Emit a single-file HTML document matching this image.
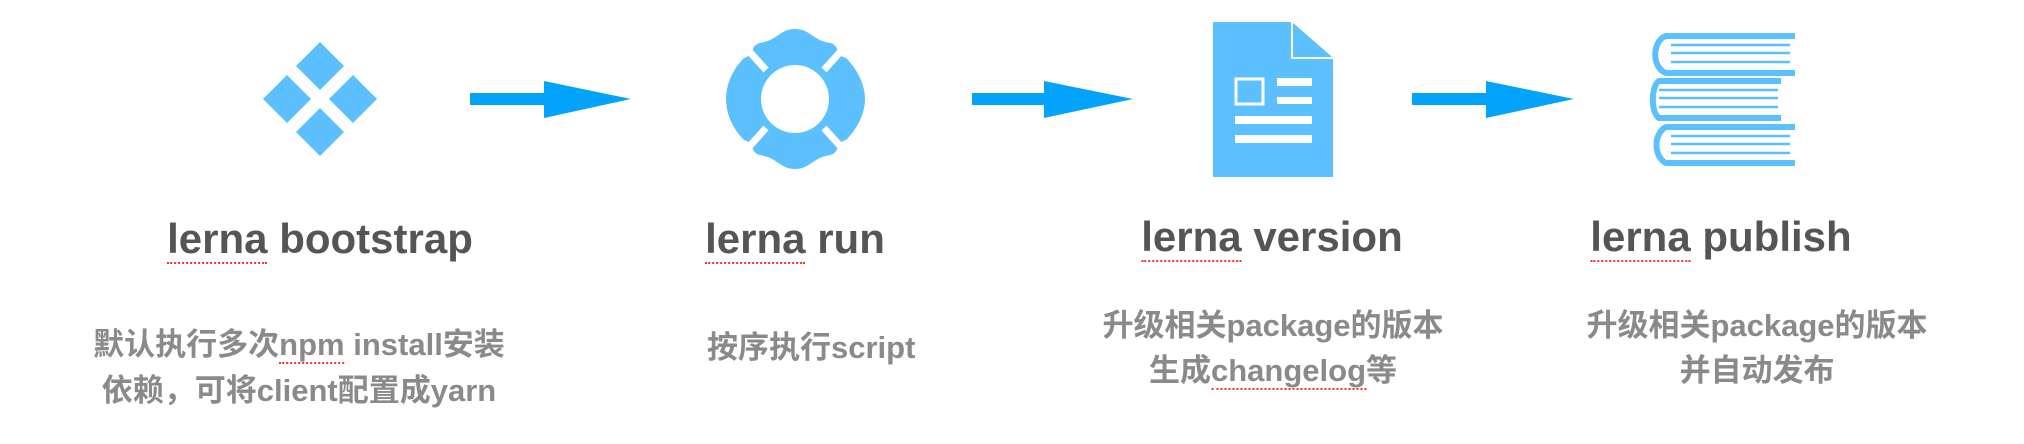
<!DOCTYPE html>
<html><head><meta charset="utf-8"><style>
body{margin:0;width:2024px;height:444px;background:#fff;position:relative;overflow:hidden}
.t{position:absolute;font-family:"Liberation Sans",sans-serif;font-weight:bold;font-size:42px;line-height:42px;color:#555;white-space:nowrap;transform:translateX(-50%)}
.d{position:absolute;font-family:"Liberation Sans","Noto Sans CJK SC",sans-serif;font-weight:bold;font-size:31px;line-height:46px;color:#8a8a8a;white-space:nowrap;text-align:center;transform:translateX(-50%)}
.u{border-bottom:2px dotted #e33}
svg{position:absolute;left:0;top:0}
</style></head><body>
<svg width="2024" height="444" viewBox="0 0 2024 444">
<g fill="#5bc0fd">
<polygon points="320,42 344,66 320,90 296,66"/>
<polygon points="287,75 311,99 287,123 263,99"/>
<polygon points="353,75 377,99 353,123 329,99"/>
<polygon points="320,108 344,132 320,156 296,132"/>
</g>
<g fill="#03a3fc">
<rect x="470" y="93" width="76" height="12"/><polygon points="544,81 631,99 544,118"/>
<rect x="972" y="93" width="74" height="12"/><polygon points="1044,81 1133,99 1044,118"/>
<rect x="1412" y="93" width="76" height="12"/><polygon points="1486,81 1574,99 1486,118"/>
</g>
<g>
<path fill="#5bc0fd" d="M795,29 C810,29 812,40 830,43 C840,45 835,55 846,58 C858,70 865,85 865,99 C865,113 858,128 846,140 C835,143 840,153 830,155 C812,158 810,169 795,169 C780,169 778,158 760,155 C750,153 755,143 744,140 C732,128 726,113 726,99 C726,85 732,70 744,58 C755,55 750,45 760,43 C778,40 780,29 795,29Z"/>
<g stroke="#fff" stroke-width="7"><line x1="748" y1="50" x2="766" y2="70"/><line x1="842" y1="50" x2="824" y2="70"/><line x1="748" y1="148" x2="766" y2="128"/><line x1="842" y1="148" x2="824" y2="128"/></g>
<ellipse cx="795" cy="99" rx="34" ry="34" fill="#fff"/>
</g>
<g>
<path fill="#5bc0fd" d="M1213,22 H1292 L1333,58 V177 H1213Z"/>
<polygon points="1294,24 1294,56 1331,56" fill="#5bc0fd"/>
<polyline points="1292,22 1292,58 1333,58" fill="none" stroke="#fff" stroke-width="2"/>
<rect x="1236" y="79" width="27" height="25" fill="none" stroke="#fff" stroke-width="3"/>
<g fill="#fff"><rect x="1277" y="78" width="35" height="8"/><rect x="1277" y="97" width="35" height="7"/><rect x="1235" y="116" width="77" height="8"/><rect x="1235" y="135" width="77" height="8"/></g>
</g>
<g fill="none" stroke="#5bc0fd">
<path d="M1795,36 H1666 A14,19 0 0 0 1666,73 H1795" stroke-width="6"/>
<path d="M1781,81 H1659 A8,19 0 0 0 1659,118 H1781" stroke-width="6"/>
<path d="M1795,127 H1666 A14,19 0 0 0 1666,163 H1795" stroke-width="6"/>
<g stroke-width="2.5"><line x1="1671" y1="45" x2="1790" y2="45"/><line x1="1671" y1="53" x2="1790" y2="53"/><line x1="1671" y1="62" x2="1790" y2="62"/>
<line x1="1659" y1="90" x2="1778" y2="90"/><line x1="1659" y1="98" x2="1778" y2="98"/><line x1="1659" y1="107" x2="1778" y2="107"/>
<line x1="1671" y1="136" x2="1790" y2="136"/><line x1="1671" y1="144" x2="1790" y2="144"/><line x1="1671" y1="153" x2="1790" y2="153"/></g>
</g>
</svg>
<div class="t" style="left:320px;top:218px"><span class="u">lerna</span> bootstrap</div>
<div class="t" style="left:795px;top:218px"><span class="u">lerna</span> run</div>
<div class="t" style="left:1272px;top:216px"><span class="u">lerna</span> version</div>
<div class="t" style="left:1721px;top:216px"><span class="u">lerna</span> publish</div>
<div class="d" style="left:299px;top:322px">默认执行多次<span class="u">npm</span> install安装<br>依赖，可将client配置成yarn</div>
<div class="d" style="left:707px;top:325px;transform:none;text-align:left">按序执行script</div>
<div class="d" style="left:1273px;top:303px;line-height:45px">升级相关package的版本<br>生成<span class="u">changelog</span>等</div>
<div class="d" style="left:1757px;top:303px;line-height:45px">升级相关package的版本<br>并自动发布</div>
</body></html>
